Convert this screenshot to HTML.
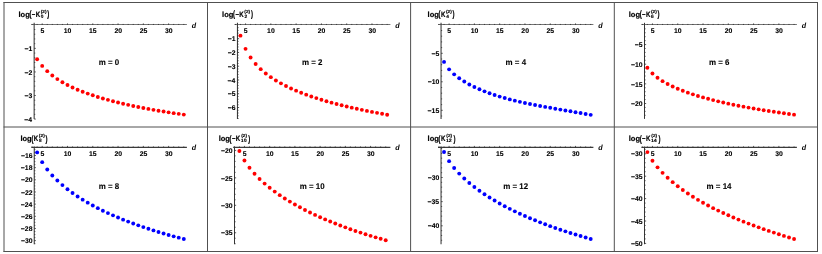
<!DOCTYPE html>
<html><head><meta charset="utf-8"><title>plots</title>
<style>
html,body{margin:0;padding:0;background:#fff;}
body{width:822px;height:254px;overflow:hidden;font-family:"Liberation Sans",sans-serif;}
svg{display:block;will-change:transform;}
text{font-family:"Liberation Sans",sans-serif;fill:#000;font-weight:bold;text-rendering:geometricPrecision;stroke:#000;stroke-width:0.2px;stroke-linejoin:round;}
.s{stroke-width:0.12px;font-weight:bold;}
.d{font-style:italic;font-weight:bold;stroke-width:0.05px;}
.m{stroke-width:0.08px;}
.t{stroke-width:0.1px;}
</style></head><body>
<svg width="822" height="254" viewBox="0 0 822 254">
<rect width="822" height="254" fill="#fff"/>
<line x1="4.0" y1="2" x2="4.0" y2="252" stroke="#505050" stroke-width="1"/>
<line x1="207.5" y1="2" x2="207.5" y2="252" stroke="#505050" stroke-width="1"/>
<line x1="410.6" y1="2" x2="410.6" y2="252" stroke="#505050" stroke-width="1"/>
<line x1="614.3" y1="2" x2="614.3" y2="252" stroke="#505050" stroke-width="1"/>
<line x1="817.5" y1="2" x2="817.5" y2="252" stroke="#505050" stroke-width="1"/>
<line x1="3.5" y1="2.5" x2="818" y2="2.5" stroke="#505050" stroke-width="1"/>
<line x1="3.5" y1="127.0" x2="818" y2="127.0" stroke="#505050" stroke-width="1"/>
<line x1="3.5" y1="251.5" x2="818" y2="251.5" stroke="#505050" stroke-width="1"/>
<g><line x1="31.3" y1="24.5" x2="186.9" y2="24.5" stroke="#747474" stroke-width="1"/><line x1="34.15" y1="22.8" x2="34.15" y2="118.9" stroke="#363636" stroke-width="1.05"/><text transform="matrix(1 0.0004 0 1 40.44 33.35)" class="t" font-size="6.85">5</text><text transform="matrix(1 0.0004 0 1 63.75 33.35)" class="t" font-size="6.85">10</text><text transform="matrix(1 0.0004 0 1 88.99 33.35)" class="t" font-size="6.85">15</text><text transform="matrix(1 0.0004 0 1 114.42 33.35)" class="t" font-size="6.85">20</text><text transform="matrix(1 0.0004 0 1 139.66 33.35)" class="t" font-size="6.85">25</text><text transform="matrix(1 0.0004 0 1 165.03 33.35)" class="t" font-size="6.85">30</text><path d="M32.09 25.0v-1.05M37.14 25.0v-1.05M42.20 25.0v-1.60M47.26 25.0v-1.05M52.31 25.0v-1.05M57.37 25.0v-1.05M62.43 25.0v-1.05M67.49 25.0v-1.60M72.54 25.0v-1.05M77.60 25.0v-1.05M82.66 25.0v-1.05M87.71 25.0v-1.05M92.77 25.0v-1.60M97.83 25.0v-1.05M102.88 25.0v-1.05M107.94 25.0v-1.05M113.00 25.0v-1.05M118.06 25.0v-1.60M123.11 25.0v-1.05M128.17 25.0v-1.05M133.23 25.0v-1.05M138.28 25.0v-1.05M143.34 25.0v-1.60M148.40 25.0v-1.05M153.45 25.0v-1.05M158.51 25.0v-1.05M163.57 25.0v-1.05M168.62 25.0v-1.60M173.68 25.0v-1.05M178.74 25.0v-1.05M183.80 25.0v-1.05M34.15 29.51h1.10M34.15 34.23h1.10M34.15 38.94h1.10M34.15 43.66h1.10M34.15 48.37h1.65M34.15 53.08h1.10M34.15 57.80h1.10M34.15 62.51h1.10M34.15 67.23h1.10M34.15 71.94h1.65M34.15 76.65h1.10M34.15 81.37h1.10M34.15 86.08h1.10M34.15 90.80h1.10M34.15 95.51h1.65M34.15 100.22h1.10M34.15 104.94h1.10M34.15 109.65h1.10M34.15 114.37h1.10M34.15 119.08h1.65" stroke="#2e2e2e" stroke-width="0.8" fill="none"/><text transform="matrix(1 0.0004 0 1 24.48 51.02)" class="t" font-size="6.85">−1</text><text transform="matrix(1 0.0004 0 1 24.56 74.59)" class="t" font-size="6.85">−2</text><text transform="matrix(1 0.0004 0 1 24.54 98.16)" class="t" font-size="6.85">−3</text><text transform="matrix(1 0.0004 0 1 24.33 121.73)" class="t" font-size="6.85">−4</text><circle cx="37.14" cy="59.24" r="1.95" fill="#ff0000"/><circle cx="42.20" cy="65.91" r="1.95" fill="#ff0000"/><circle cx="47.26" cy="71.16" r="1.95" fill="#ff0000"/><circle cx="52.31" cy="75.46" r="1.95" fill="#ff0000"/><circle cx="57.37" cy="79.09" r="1.95" fill="#ff0000"/><circle cx="62.43" cy="82.22" r="1.95" fill="#ff0000"/><circle cx="67.49" cy="84.98" r="1.95" fill="#ff0000"/><circle cx="72.54" cy="87.45" r="1.95" fill="#ff0000"/><circle cx="77.60" cy="89.68" r="1.95" fill="#ff0000"/><circle cx="82.66" cy="91.71" r="1.95" fill="#ff0000"/><circle cx="87.71" cy="93.58" r="1.95" fill="#ff0000"/><circle cx="92.77" cy="95.32" r="1.95" fill="#ff0000"/><circle cx="97.83" cy="96.94" r="1.95" fill="#ff0000"/><circle cx="102.88" cy="98.45" r="1.95" fill="#ff0000"/><circle cx="107.94" cy="99.87" r="1.95" fill="#ff0000"/><circle cx="113.00" cy="101.22" r="1.95" fill="#ff0000"/><circle cx="118.06" cy="102.49" r="1.95" fill="#ff0000"/><circle cx="123.11" cy="103.69" r="1.95" fill="#ff0000"/><circle cx="128.17" cy="104.84" r="1.95" fill="#ff0000"/><circle cx="133.23" cy="105.93" r="1.95" fill="#ff0000"/><circle cx="138.28" cy="106.98" r="1.95" fill="#ff0000"/><circle cx="143.34" cy="107.97" r="1.95" fill="#ff0000"/><circle cx="148.40" cy="108.92" r="1.95" fill="#ff0000"/><circle cx="153.45" cy="109.84" r="1.95" fill="#ff0000"/><circle cx="158.51" cy="110.71" r="1.95" fill="#ff0000"/><circle cx="163.57" cy="111.55" r="1.95" fill="#ff0000"/><circle cx="168.62" cy="112.35" r="1.95" fill="#ff0000"/><circle cx="173.68" cy="113.13" r="1.95" fill="#ff0000"/><circle cx="178.74" cy="113.87" r="1.95" fill="#ff0000"/><circle cx="183.80" cy="114.58" r="1.95" fill="#ff0000"/><text transform="matrix(1 0.0004 0 1 18.53 16.80)" class="l" font-size="7.5">log</text><text transform="matrix(0.8 0.0004 0 1.25 29.50 17.20)" class="l" font-size="7.5">(</text><text transform="matrix(0.8 0.0004 0 1 31.85 16.80)" class="l" font-size="7.5">−</text><text transform="matrix(0.82 0.0004 0 1.03 35.64 16.80)" class="l" font-size="7.5">K</text><text transform="matrix(1.12 0.0004 0 1 40.76 13.10)" class="s" font-size="4.3">(2)</text><text transform="matrix(1 0.0004 0 1 40.81 17.50)" class="s" font-size="4.8">0</text><text transform="matrix(0.8 0.0004 0 1.25 47.35 17.20)" class="l" font-size="7.5">)</text><text transform="matrix(1 0.0004 0 1.04 98.68 64.50)" class="m" font-size="7.95">m = 0</text><text transform="matrix(1 0.0004 0 1 191.70 27.80)" class="d" font-size="7.1">d</text></g>
<g><line x1="234.5" y1="24.5" x2="390.4" y2="24.5" stroke="#747474" stroke-width="1"/><line x1="237.45" y1="22.8" x2="237.45" y2="118.9" stroke="#363636" stroke-width="1.05"/><text transform="matrix(1 0.0004 0 1 243.79 33.35)" class="t" font-size="6.85">5</text><text transform="matrix(1 0.0004 0 1 267.10 33.35)" class="t" font-size="6.85">10</text><text transform="matrix(1 0.0004 0 1 292.34 33.35)" class="t" font-size="6.85">15</text><text transform="matrix(1 0.0004 0 1 317.77 33.35)" class="t" font-size="6.85">20</text><text transform="matrix(1 0.0004 0 1 343.01 33.35)" class="t" font-size="6.85">25</text><text transform="matrix(1 0.0004 0 1 368.38 33.35)" class="t" font-size="6.85">30</text><path d="M235.44 25.0v-1.05M240.49 25.0v-1.05M245.55 25.0v-1.60M250.61 25.0v-1.05M255.66 25.0v-1.05M260.72 25.0v-1.05M265.78 25.0v-1.05M270.84 25.0v-1.60M275.89 25.0v-1.05M280.95 25.0v-1.05M286.01 25.0v-1.05M291.06 25.0v-1.05M296.12 25.0v-1.60M301.18 25.0v-1.05M306.23 25.0v-1.05M311.29 25.0v-1.05M316.35 25.0v-1.05M321.41 25.0v-1.60M326.46 25.0v-1.05M331.52 25.0v-1.05M336.58 25.0v-1.05M341.63 25.0v-1.05M346.69 25.0v-1.60M351.75 25.0v-1.05M356.80 25.0v-1.05M361.86 25.0v-1.05M366.92 25.0v-1.05M371.98 25.0v-1.60M377.03 25.0v-1.05M382.09 25.0v-1.05M387.15 25.0v-1.05M237.45 27.65h1.10M237.45 30.41h1.10M237.45 33.16h1.10M237.45 35.92h1.10M237.45 38.67h1.65M237.45 41.42h1.10M237.45 44.18h1.10M237.45 46.93h1.10M237.45 49.69h1.10M237.45 52.44h1.65M237.45 55.19h1.10M237.45 57.95h1.10M237.45 60.70h1.10M237.45 63.46h1.10M237.45 66.21h1.65M237.45 68.96h1.10M237.45 71.72h1.10M237.45 74.47h1.10M237.45 77.23h1.10M237.45 79.98h1.65M237.45 82.73h1.10M237.45 85.49h1.10M237.45 88.24h1.10M237.45 91.00h1.10M237.45 93.75h1.65M237.45 96.50h1.10M237.45 99.26h1.10M237.45 102.01h1.10M237.45 104.77h1.10M237.45 107.52h1.65M237.45 110.27h1.10M237.45 113.03h1.10M237.45 115.78h1.10M237.45 118.54h1.10" stroke="#2e2e2e" stroke-width="0.8" fill="none"/><text transform="matrix(1 0.0004 0 1 227.63 41.32)" class="t" font-size="6.85">−1</text><text transform="matrix(1 0.0004 0 1 227.71 55.09)" class="t" font-size="6.85">−2</text><text transform="matrix(1 0.0004 0 1 227.69 68.86)" class="t" font-size="6.85">−3</text><text transform="matrix(1 0.0004 0 1 227.48 82.63)" class="t" font-size="6.85">−4</text><text transform="matrix(1 0.0004 0 1 227.63 96.40)" class="t" font-size="6.85">−5</text><text transform="matrix(1 0.0004 0 1 227.69 110.17)" class="t" font-size="6.85">−6</text><circle cx="240.49" cy="35.67" r="1.95" fill="#ff0000"/><circle cx="245.55" cy="48.85" r="1.95" fill="#ff0000"/><circle cx="250.61" cy="57.55" r="1.95" fill="#ff0000"/><circle cx="255.66" cy="64.01" r="1.95" fill="#ff0000"/><circle cx="260.72" cy="69.16" r="1.95" fill="#ff0000"/><circle cx="265.78" cy="73.47" r="1.95" fill="#ff0000"/><circle cx="270.84" cy="77.17" r="1.95" fill="#ff0000"/><circle cx="275.89" cy="80.44" r="1.95" fill="#ff0000"/><circle cx="280.95" cy="83.36" r="1.95" fill="#ff0000"/><circle cx="286.01" cy="86.01" r="1.95" fill="#ff0000"/><circle cx="291.06" cy="88.43" r="1.95" fill="#ff0000"/><circle cx="296.12" cy="90.65" r="1.95" fill="#ff0000"/><circle cx="301.18" cy="92.72" r="1.95" fill="#ff0000"/><circle cx="306.23" cy="94.64" r="1.95" fill="#ff0000"/><circle cx="311.29" cy="96.44" r="1.95" fill="#ff0000"/><circle cx="316.35" cy="98.12" r="1.95" fill="#ff0000"/><circle cx="321.41" cy="99.71" r="1.95" fill="#ff0000"/><circle cx="326.46" cy="101.21" r="1.95" fill="#ff0000"/><circle cx="331.52" cy="102.64" r="1.95" fill="#ff0000"/><circle cx="336.58" cy="103.99" r="1.95" fill="#ff0000"/><circle cx="341.63" cy="105.27" r="1.95" fill="#ff0000"/><circle cx="346.69" cy="106.50" r="1.95" fill="#ff0000"/><circle cx="351.75" cy="107.67" r="1.95" fill="#ff0000"/><circle cx="356.80" cy="108.80" r="1.95" fill="#ff0000"/><circle cx="361.86" cy="109.87" r="1.95" fill="#ff0000"/><circle cx="366.92" cy="110.91" r="1.95" fill="#ff0000"/><circle cx="371.98" cy="111.90" r="1.95" fill="#ff0000"/><circle cx="377.03" cy="112.86" r="1.95" fill="#ff0000"/><circle cx="382.09" cy="113.79" r="1.95" fill="#ff0000"/><circle cx="387.15" cy="114.69" r="1.95" fill="#ff0000"/><text transform="matrix(1 0.0004 0 1 222.08 16.80)" class="l" font-size="7.5">log</text><text transform="matrix(0.8 0.0004 0 1.25 233.05 17.20)" class="l" font-size="7.5">(</text><text transform="matrix(0.8 0.0004 0 1 235.40 16.80)" class="l" font-size="7.5">−</text><text transform="matrix(0.82 0.0004 0 1.03 239.19 16.80)" class="l" font-size="7.5">K</text><text transform="matrix(1.12 0.0004 0 1 244.31 13.10)" class="s" font-size="4.3">(2)</text><text transform="matrix(1 0.0004 0 1 244.38 17.50)" class="s" font-size="4.8">2</text><text transform="matrix(0.8 0.0004 0 1.25 250.90 17.20)" class="l" font-size="7.5">)</text><text transform="matrix(1 0.0004 0 1.04 301.92 64.50)" class="m" font-size="7.95">m = 2</text><text transform="matrix(1 0.0004 0 1 395.20 27.80)" class="d" font-size="7.1">d</text></g>
<g><line x1="438.0" y1="24.5" x2="593.4" y2="24.5" stroke="#747474" stroke-width="1"/><line x1="441.055" y1="22.8" x2="441.055" y2="118.9" stroke="#363636" stroke-width="1.05"/><text transform="matrix(1 0.0004 0 1 447.34 33.35)" class="t" font-size="6.85">5</text><text transform="matrix(1 0.0004 0 1 470.65 33.35)" class="t" font-size="6.85">10</text><text transform="matrix(1 0.0004 0 1 495.89 33.35)" class="t" font-size="6.85">15</text><text transform="matrix(1 0.0004 0 1 521.32 33.35)" class="t" font-size="6.85">20</text><text transform="matrix(1 0.0004 0 1 546.56 33.35)" class="t" font-size="6.85">25</text><text transform="matrix(1 0.0004 0 1 571.93 33.35)" class="t" font-size="6.85">30</text><path d="M438.99 25.0v-1.05M444.04 25.0v-1.05M449.10 25.0v-1.60M454.16 25.0v-1.05M459.21 25.0v-1.05M464.27 25.0v-1.05M469.33 25.0v-1.05M474.39 25.0v-1.60M479.44 25.0v-1.05M484.50 25.0v-1.05M489.56 25.0v-1.05M494.61 25.0v-1.05M499.67 25.0v-1.60M504.73 25.0v-1.05M509.78 25.0v-1.05M514.84 25.0v-1.05M519.90 25.0v-1.05M524.96 25.0v-1.60M530.01 25.0v-1.05M535.07 25.0v-1.05M540.13 25.0v-1.05M545.18 25.0v-1.05M550.24 25.0v-1.60M555.30 25.0v-1.05M560.35 25.0v-1.05M565.41 25.0v-1.05M570.47 25.0v-1.05M575.53 25.0v-1.60M580.58 25.0v-1.05M585.64 25.0v-1.05M590.70 25.0v-1.05M441.055 30.50h1.10M441.055 36.20h1.10M441.055 41.90h1.10M441.055 47.60h1.10M441.055 53.30h1.65M441.055 59.00h1.10M441.055 64.70h1.10M441.055 70.40h1.10M441.055 76.10h1.10M441.055 81.80h1.65M441.055 87.50h1.10M441.055 93.20h1.10M441.055 98.90h1.10M441.055 104.60h1.10M441.055 110.30h1.65M441.055 116.00h1.10" stroke="#2e2e2e" stroke-width="0.8" fill="none"/><text transform="matrix(1 0.0004 0 1 431.39 55.95)" class="t" font-size="6.85">−5</text><text transform="matrix(1 0.0004 0 1 427.67 84.45)" class="t" font-size="6.85">−10</text><text transform="matrix(1 0.0004 0 1 427.58 112.95)" class="t" font-size="6.85">−15</text><circle cx="444.04" cy="61.89" r="1.95" fill="#0000ff"/><circle cx="449.10" cy="69.35" r="1.95" fill="#0000ff"/><circle cx="454.16" cy="74.34" r="1.95" fill="#0000ff"/><circle cx="459.21" cy="78.25" r="1.95" fill="#0000ff"/><circle cx="464.27" cy="81.55" r="1.95" fill="#0000ff"/><circle cx="469.33" cy="84.43" r="1.95" fill="#0000ff"/><circle cx="474.39" cy="86.99" r="1.95" fill="#0000ff"/><circle cx="479.44" cy="89.29" r="1.95" fill="#0000ff"/><circle cx="484.50" cy="91.37" r="1.95" fill="#0000ff"/><circle cx="489.56" cy="93.26" r="1.95" fill="#0000ff"/><circle cx="494.61" cy="94.99" r="1.95" fill="#0000ff"/><circle cx="499.67" cy="96.58" r="1.95" fill="#0000ff"/><circle cx="504.73" cy="98.04" r="1.95" fill="#0000ff"/><circle cx="509.78" cy="99.40" r="1.95" fill="#0000ff"/><circle cx="514.84" cy="100.66" r="1.95" fill="#0000ff"/><circle cx="519.90" cy="101.84" r="1.95" fill="#0000ff"/><circle cx="524.96" cy="102.95" r="1.95" fill="#0000ff"/><circle cx="530.01" cy="104.01" r="1.95" fill="#0000ff"/><circle cx="535.07" cy="105.01" r="1.95" fill="#0000ff"/><circle cx="540.13" cy="105.98" r="1.95" fill="#0000ff"/><circle cx="545.18" cy="106.91" r="1.95" fill="#0000ff"/><circle cx="550.24" cy="107.82" r="1.95" fill="#0000ff"/><circle cx="555.30" cy="108.71" r="1.95" fill="#0000ff"/><circle cx="560.35" cy="109.58" r="1.95" fill="#0000ff"/><circle cx="565.41" cy="110.45" r="1.95" fill="#0000ff"/><circle cx="570.47" cy="111.31" r="1.95" fill="#0000ff"/><circle cx="575.53" cy="112.18" r="1.95" fill="#0000ff"/><circle cx="580.58" cy="113.06" r="1.95" fill="#0000ff"/><circle cx="585.64" cy="113.94" r="1.95" fill="#0000ff"/><circle cx="590.70" cy="114.84" r="1.95" fill="#0000ff"/><text transform="matrix(1 0.0004 0 1 427.58 16.80)" class="l" font-size="7.5">log</text><text transform="matrix(0.8 0.0004 0 1.25 438.55 17.20)" class="l" font-size="7.5">(</text><text transform="matrix(0.82 0.0004 0 1.03 440.89 16.80)" class="l" font-size="7.5">K</text><text transform="matrix(1.12 0.0004 0 1 446.01 13.10)" class="s" font-size="4.3">(2)</text><text transform="matrix(1 0.0004 0 1 446.18 17.50)" class="s" font-size="4.8">4</text><text transform="matrix(0.8 0.0004 0 1.25 452.60 17.20)" class="l" font-size="7.5">)</text><text transform="matrix(1 0.0004 0 1.04 505.58 64.50)" class="m" font-size="7.95">m = 4</text><text transform="matrix(1 0.0004 0 1 598.20 27.80)" class="d" font-size="7.1">d</text></g>
<g><line x1="641.4" y1="24.5" x2="796.9" y2="24.5" stroke="#747474" stroke-width="1"/><line x1="644.5" y1="22.8" x2="644.5" y2="118.9" stroke="#363636" stroke-width="1.05"/><text transform="matrix(1 0.0004 0 1 650.69 33.35)" class="t" font-size="6.85">5</text><text transform="matrix(1 0.0004 0 1 674.00 33.35)" class="t" font-size="6.85">10</text><text transform="matrix(1 0.0004 0 1 699.24 33.35)" class="t" font-size="6.85">15</text><text transform="matrix(1 0.0004 0 1 724.67 33.35)" class="t" font-size="6.85">20</text><text transform="matrix(1 0.0004 0 1 749.91 33.35)" class="t" font-size="6.85">25</text><text transform="matrix(1 0.0004 0 1 775.28 33.35)" class="t" font-size="6.85">30</text><path d="M642.34 25.0v-1.05M647.39 25.0v-1.05M652.45 25.0v-1.60M657.51 25.0v-1.05M662.56 25.0v-1.05M667.62 25.0v-1.05M672.68 25.0v-1.05M677.74 25.0v-1.60M682.79 25.0v-1.05M687.85 25.0v-1.05M692.91 25.0v-1.05M697.96 25.0v-1.05M703.02 25.0v-1.60M708.08 25.0v-1.05M713.13 25.0v-1.05M718.19 25.0v-1.05M723.25 25.0v-1.05M728.31 25.0v-1.60M733.36 25.0v-1.05M738.42 25.0v-1.05M743.48 25.0v-1.05M748.53 25.0v-1.05M753.59 25.0v-1.60M758.65 25.0v-1.05M763.70 25.0v-1.05M768.76 25.0v-1.05M773.82 25.0v-1.05M778.88 25.0v-1.60M783.93 25.0v-1.05M788.99 25.0v-1.05M794.05 25.0v-1.05M644.5 28.83h1.10M644.5 32.76h1.10M644.5 36.69h1.10M644.5 40.62h1.10M644.5 44.55h1.65M644.5 48.48h1.10M644.5 52.41h1.10M644.5 56.34h1.10M644.5 60.27h1.10M644.5 64.20h1.65M644.5 68.13h1.10M644.5 72.06h1.10M644.5 75.99h1.10M644.5 79.92h1.10M644.5 83.85h1.65M644.5 87.78h1.10M644.5 91.71h1.10M644.5 95.64h1.10M644.5 99.57h1.10M644.5 103.50h1.65M644.5 107.43h1.10M644.5 111.36h1.10M644.5 115.29h1.10" stroke="#2e2e2e" stroke-width="0.8" fill="none"/><text transform="matrix(1 0.0004 0 1 634.73 47.20)" class="t" font-size="6.85">−5</text><text transform="matrix(1 0.0004 0 1 631.01 66.85)" class="t" font-size="6.85">−10</text><text transform="matrix(1 0.0004 0 1 630.92 86.50)" class="t" font-size="6.85">−15</text><text transform="matrix(1 0.0004 0 1 631.01 106.15)" class="t" font-size="6.85">−20</text><circle cx="647.39" cy="67.68" r="1.95" fill="#ff0000"/><circle cx="652.45" cy="73.55" r="1.95" fill="#ff0000"/><circle cx="657.51" cy="77.78" r="1.95" fill="#ff0000"/><circle cx="662.56" cy="81.15" r="1.95" fill="#ff0000"/><circle cx="667.62" cy="84.01" r="1.95" fill="#ff0000"/><circle cx="672.68" cy="86.51" r="1.95" fill="#ff0000"/><circle cx="677.74" cy="88.75" r="1.95" fill="#ff0000"/><circle cx="682.79" cy="90.77" r="1.95" fill="#ff0000"/><circle cx="687.85" cy="92.63" r="1.95" fill="#ff0000"/><circle cx="692.91" cy="94.34" r="1.95" fill="#ff0000"/><circle cx="697.96" cy="95.93" r="1.95" fill="#ff0000"/><circle cx="703.02" cy="97.41" r="1.95" fill="#ff0000"/><circle cx="708.08" cy="98.80" r="1.95" fill="#ff0000"/><circle cx="713.13" cy="100.11" r="1.95" fill="#ff0000"/><circle cx="718.19" cy="101.34" r="1.95" fill="#ff0000"/><circle cx="723.25" cy="102.52" r="1.95" fill="#ff0000"/><circle cx="728.31" cy="103.63" r="1.95" fill="#ff0000"/><circle cx="733.36" cy="104.69" r="1.95" fill="#ff0000"/><circle cx="738.42" cy="105.70" r="1.95" fill="#ff0000"/><circle cx="743.48" cy="106.67" r="1.95" fill="#ff0000"/><circle cx="748.53" cy="107.60" r="1.95" fill="#ff0000"/><circle cx="753.59" cy="108.49" r="1.95" fill="#ff0000"/><circle cx="758.65" cy="109.35" r="1.95" fill="#ff0000"/><circle cx="763.70" cy="110.18" r="1.95" fill="#ff0000"/><circle cx="768.76" cy="110.98" r="1.95" fill="#ff0000"/><circle cx="773.82" cy="111.75" r="1.95" fill="#ff0000"/><circle cx="778.88" cy="112.50" r="1.95" fill="#ff0000"/><circle cx="783.93" cy="113.23" r="1.95" fill="#ff0000"/><circle cx="788.99" cy="113.94" r="1.95" fill="#ff0000"/><circle cx="794.05" cy="114.63" r="1.95" fill="#ff0000"/><text transform="matrix(1 0.0004 0 1 628.78 16.80)" class="l" font-size="7.5">log</text><text transform="matrix(0.8 0.0004 0 1.25 639.75 17.20)" class="l" font-size="7.5">(</text><text transform="matrix(0.8 0.0004 0 1 642.10 16.80)" class="l" font-size="7.5">−</text><text transform="matrix(0.82 0.0004 0 1.03 645.89 16.80)" class="l" font-size="7.5">K</text><text transform="matrix(1.12 0.0004 0 1 651.01 13.10)" class="s" font-size="4.3">(2)</text><text transform="matrix(1 0.0004 0 1 651.07 17.50)" class="s" font-size="4.8">6</text><text transform="matrix(0.8 0.0004 0 1.25 657.60 17.20)" class="l" font-size="7.5">)</text><text transform="matrix(1 0.0004 0 1.04 708.91 64.50)" class="m" font-size="7.95">m = 6</text><text transform="matrix(1 0.0004 0 1 801.70 27.80)" class="d" font-size="7.1">d</text></g>
<g><line x1="31.3" y1="147.3" x2="186.9" y2="147.3" stroke="#3a3a3a" stroke-width="1.3"/><line x1="34.25" y1="146.6" x2="34.25" y2="244.2" stroke="#363636" stroke-width="1.05"/><text transform="matrix(1 0.0004 0 1 40.44 155.90)" class="t" font-size="6.85">5</text><text transform="matrix(1 0.0004 0 1 63.75 155.90)" class="t" font-size="6.85">10</text><text transform="matrix(1 0.0004 0 1 88.99 155.90)" class="t" font-size="6.85">15</text><text transform="matrix(1 0.0004 0 1 114.42 155.90)" class="t" font-size="6.85">20</text><text transform="matrix(1 0.0004 0 1 139.66 155.90)" class="t" font-size="6.85">25</text><text transform="matrix(1 0.0004 0 1 165.03 155.90)" class="t" font-size="6.85">30</text><path d="M32.09 147.5v-1.05M37.14 147.5v-1.05M42.20 147.5v-1.60M47.26 147.5v-1.05M52.31 147.5v-1.05M57.37 147.5v-1.05M62.43 147.5v-1.05M67.49 147.5v-1.60M72.54 147.5v-1.05M77.60 147.5v-1.05M82.66 147.5v-1.05M87.71 147.5v-1.05M92.77 147.5v-1.60M97.83 147.5v-1.05M102.88 147.5v-1.05M107.94 147.5v-1.05M113.00 147.5v-1.05M118.06 147.5v-1.60M123.11 147.5v-1.05M128.17 147.5v-1.05M133.23 147.5v-1.05M138.28 147.5v-1.05M143.34 147.5v-1.60M148.40 147.5v-1.05M153.45 147.5v-1.05M158.51 147.5v-1.05M163.57 147.5v-1.05M168.62 147.5v-1.60M173.68 147.5v-1.05M178.74 147.5v-1.05M183.80 147.5v-1.05M34.25 149.42h1.10M34.25 152.46h1.10M34.25 155.50h1.65M34.25 158.54h1.10M34.25 161.58h1.10M34.25 164.62h1.10M34.25 167.66h1.65M34.25 170.70h1.10M34.25 173.74h1.10M34.25 176.78h1.10M34.25 179.82h1.65M34.25 182.86h1.10M34.25 185.90h1.10M34.25 188.94h1.10M34.25 191.98h1.65M34.25 195.02h1.10M34.25 198.06h1.10M34.25 201.10h1.10M34.25 204.14h1.65M34.25 207.18h1.10M34.25 210.22h1.10M34.25 213.26h1.10M34.25 216.30h1.65M34.25 219.34h1.10M34.25 222.38h1.10M34.25 225.42h1.10M34.25 228.46h1.65M34.25 231.50h1.10M34.25 234.54h1.10M34.25 237.58h1.10M34.25 240.62h1.65M34.25 243.66h1.10" stroke="#2e2e2e" stroke-width="0.8" fill="none"/><text transform="matrix(1 0.0004 0 1 20.88 158.15)" class="t" font-size="6.85">−16</text><text transform="matrix(1 0.0004 0 1 20.84 170.31)" class="t" font-size="6.85">−18</text><text transform="matrix(1 0.0004 0 1 20.91 182.47)" class="t" font-size="6.85">−20</text><text transform="matrix(1 0.0004 0 1 20.90 194.63)" class="t" font-size="6.85">−22</text><text transform="matrix(1 0.0004 0 1 20.67 206.79)" class="t" font-size="6.85">−24</text><text transform="matrix(1 0.0004 0 1 20.88 218.95)" class="t" font-size="6.85">−26</text><text transform="matrix(1 0.0004 0 1 20.84 231.11)" class="t" font-size="6.85">−28</text><text transform="matrix(1 0.0004 0 1 20.91 243.27)" class="t" font-size="6.85">−30</text><circle cx="37.14" cy="152.39" r="1.95" fill="#0000ff"/><circle cx="42.20" cy="162.14" r="1.95" fill="#0000ff"/><circle cx="47.26" cy="169.45" r="1.95" fill="#0000ff"/><circle cx="52.31" cy="175.43" r="1.95" fill="#0000ff"/><circle cx="57.37" cy="180.57" r="1.95" fill="#0000ff"/><circle cx="62.43" cy="185.11" r="1.95" fill="#0000ff"/><circle cx="67.49" cy="189.22" r="1.95" fill="#0000ff"/><circle cx="72.54" cy="192.96" r="1.95" fill="#0000ff"/><circle cx="77.60" cy="196.43" r="1.95" fill="#0000ff"/><circle cx="82.66" cy="199.65" r="1.95" fill="#0000ff"/><circle cx="87.71" cy="202.66" r="1.95" fill="#0000ff"/><circle cx="92.77" cy="205.49" r="1.95" fill="#0000ff"/><circle cx="97.83" cy="208.16" r="1.95" fill="#0000ff"/><circle cx="102.88" cy="210.69" r="1.95" fill="#0000ff"/><circle cx="107.94" cy="213.09" r="1.95" fill="#0000ff"/><circle cx="113.00" cy="215.37" r="1.95" fill="#0000ff"/><circle cx="118.06" cy="217.55" r="1.95" fill="#0000ff"/><circle cx="123.11" cy="219.63" r="1.95" fill="#0000ff"/><circle cx="128.17" cy="221.62" r="1.95" fill="#0000ff"/><circle cx="133.23" cy="223.52" r="1.95" fill="#0000ff"/><circle cx="138.28" cy="225.35" r="1.95" fill="#0000ff"/><circle cx="143.34" cy="227.11" r="1.95" fill="#0000ff"/><circle cx="148.40" cy="228.79" r="1.95" fill="#0000ff"/><circle cx="153.45" cy="230.42" r="1.95" fill="#0000ff"/><circle cx="158.51" cy="231.98" r="1.95" fill="#0000ff"/><circle cx="163.57" cy="233.48" r="1.95" fill="#0000ff"/><circle cx="168.62" cy="234.93" r="1.95" fill="#0000ff"/><circle cx="173.68" cy="236.33" r="1.95" fill="#0000ff"/><circle cx="178.74" cy="237.67" r="1.95" fill="#0000ff"/><circle cx="183.80" cy="238.97" r="1.95" fill="#0000ff"/><text transform="matrix(1 0.0004 0 1 20.43 141.10)" class="l" font-size="7.5">log</text><text transform="matrix(0.8 0.0004 0 1.25 31.40 141.50)" class="l" font-size="7.5">(</text><text transform="matrix(0.82 0.0004 0 1.03 33.74 141.10)" class="l" font-size="7.5">K</text><text transform="matrix(1.12 0.0004 0 1 38.86 137.40)" class="s" font-size="4.3">(2)</text><text transform="matrix(1 0.0004 0 1 38.95 142.30)" class="s" font-size="4.8">8</text><text transform="matrix(0.8 0.0004 0 1.25 45.45 141.50)" class="l" font-size="7.5">)</text><text transform="matrix(1 0.0004 0 1.04 98.69 189.40)" class="m" font-size="7.95">m = 8</text><text transform="matrix(1 0.0004 0 1 191.70 150.30)" class="d" font-size="7.1">d</text></g>
<g><line x1="233.2" y1="147.3" x2="390.4" y2="147.3" stroke="#3a3a3a" stroke-width="1.3"/><line x1="234.5" y1="146.6" x2="234.5" y2="244.2" stroke="#363636" stroke-width="1.05"/><text transform="matrix(1 0.0004 0 1 242.69 155.90)" class="t" font-size="6.85">5</text><text transform="matrix(1 0.0004 0 1 265.94 155.90)" class="t" font-size="6.85">10</text><text transform="matrix(1 0.0004 0 1 291.12 155.90)" class="t" font-size="6.85">15</text><text transform="matrix(1 0.0004 0 1 316.49 155.90)" class="t" font-size="6.85">20</text><text transform="matrix(1 0.0004 0 1 341.67 155.90)" class="t" font-size="6.85">25</text><text transform="matrix(1 0.0004 0 1 366.98 155.90)" class="t" font-size="6.85">30</text><path d="M234.36 147.5v-1.05M239.41 147.5v-1.05M244.45 147.5v-1.60M249.49 147.5v-1.05M254.54 147.5v-1.05M259.58 147.5v-1.05M264.63 147.5v-1.05M269.68 147.5v-1.60M274.72 147.5v-1.05M279.76 147.5v-1.05M284.81 147.5v-1.05M289.86 147.5v-1.05M294.90 147.5v-1.60M299.94 147.5v-1.05M304.99 147.5v-1.05M310.03 147.5v-1.05M315.08 147.5v-1.05M320.12 147.5v-1.60M325.17 147.5v-1.05M330.21 147.5v-1.05M335.26 147.5v-1.05M340.31 147.5v-1.05M345.35 147.5v-1.60M350.39 147.5v-1.05M355.44 147.5v-1.05M360.49 147.5v-1.05M365.53 147.5v-1.05M370.57 147.5v-1.60M375.62 147.5v-1.05M380.66 147.5v-1.05M385.71 147.5v-1.05M234.5 150.40h1.65M234.5 155.89h1.10M234.5 161.38h1.10M234.5 166.87h1.10M234.5 172.36h1.10M234.5 177.85h1.65M234.5 183.34h1.10M234.5 188.83h1.10M234.5 194.32h1.10M234.5 199.81h1.10M234.5 205.30h1.65M234.5 210.79h1.10M234.5 216.28h1.10M234.5 221.77h1.10M234.5 227.26h1.10M234.5 232.75h1.65M234.5 238.24h1.10M234.5 243.73h1.10" stroke="#2e2e2e" stroke-width="0.8" fill="none"/><text transform="matrix(1 0.0004 0 1 221.06 153.05)" class="t" font-size="6.85">−20</text><text transform="matrix(1 0.0004 0 1 220.97 180.50)" class="t" font-size="6.85">−25</text><text transform="matrix(1 0.0004 0 1 221.06 207.95)" class="t" font-size="6.85">−30</text><text transform="matrix(1 0.0004 0 1 220.97 235.40)" class="t" font-size="6.85">−35</text><circle cx="239.41" cy="151.07" r="1.95" fill="#ff0000"/><circle cx="244.45" cy="160.53" r="1.95" fill="#ff0000"/><circle cx="249.49" cy="167.78" r="1.95" fill="#ff0000"/><circle cx="254.54" cy="173.78" r="1.95" fill="#ff0000"/><circle cx="259.58" cy="178.97" r="1.95" fill="#ff0000"/><circle cx="264.63" cy="183.59" r="1.95" fill="#ff0000"/><circle cx="269.68" cy="187.77" r="1.95" fill="#ff0000"/><circle cx="274.72" cy="191.61" r="1.95" fill="#ff0000"/><circle cx="279.76" cy="195.17" r="1.95" fill="#ff0000"/><circle cx="284.81" cy="198.48" r="1.95" fill="#ff0000"/><circle cx="289.86" cy="201.60" r="1.95" fill="#ff0000"/><circle cx="294.90" cy="204.54" r="1.95" fill="#ff0000"/><circle cx="299.94" cy="207.32" r="1.95" fill="#ff0000"/><circle cx="304.99" cy="209.97" r="1.95" fill="#ff0000"/><circle cx="310.03" cy="212.48" r="1.95" fill="#ff0000"/><circle cx="315.08" cy="214.89" r="1.95" fill="#ff0000"/><circle cx="320.12" cy="217.19" r="1.95" fill="#ff0000"/><circle cx="325.17" cy="219.39" r="1.95" fill="#ff0000"/><circle cx="330.21" cy="221.50" r="1.95" fill="#ff0000"/><circle cx="335.26" cy="223.54" r="1.95" fill="#ff0000"/><circle cx="340.31" cy="225.49" r="1.95" fill="#ff0000"/><circle cx="345.35" cy="227.37" r="1.95" fill="#ff0000"/><circle cx="350.39" cy="229.19" r="1.95" fill="#ff0000"/><circle cx="355.44" cy="230.94" r="1.95" fill="#ff0000"/><circle cx="360.49" cy="232.62" r="1.95" fill="#ff0000"/><circle cx="365.53" cy="234.25" r="1.95" fill="#ff0000"/><circle cx="370.57" cy="235.83" r="1.95" fill="#ff0000"/><circle cx="375.62" cy="237.35" r="1.95" fill="#ff0000"/><circle cx="380.66" cy="238.81" r="1.95" fill="#ff0000"/><circle cx="385.71" cy="240.23" r="1.95" fill="#ff0000"/><text transform="matrix(1 0.0004 0 1 218.63 141.10)" class="l" font-size="7.5">log</text><text transform="matrix(0.8 0.0004 0 1.25 229.60 141.50)" class="l" font-size="7.5">(</text><text transform="matrix(0.8 0.0004 0 1 231.95 141.10)" class="l" font-size="7.5">−</text><text transform="matrix(0.82 0.0004 0 1.03 235.74 141.10)" class="l" font-size="7.5">K</text><text transform="matrix(1.12 0.0004 0 1 241.16 137.40)" class="s" font-size="4.3">(2)</text><text transform="matrix(1.1 0.0004 0 1 240.77 142.30)" class="s" font-size="4.8">10</text><text transform="matrix(0.8 0.0004 0 1.25 248.25 141.50)" class="l" font-size="7.5">)</text><text transform="matrix(1 0.0004 0 1.04 299.72 189.40)" class="m" font-size="7.95">m = 10</text><text transform="matrix(1 0.0004 0 1 395.20 150.30)" class="d" font-size="7.1">d</text></g>
<g><line x1="438.0" y1="147.3" x2="593.4" y2="147.3" stroke="#3a3a3a" stroke-width="1.3"/><line x1="441.05" y1="146.6" x2="441.05" y2="244.2" stroke="#363636" stroke-width="1.05"/><text transform="matrix(1 0.0004 0 1 447.34 155.90)" class="t" font-size="6.85">5</text><text transform="matrix(1 0.0004 0 1 470.65 155.90)" class="t" font-size="6.85">10</text><text transform="matrix(1 0.0004 0 1 495.89 155.90)" class="t" font-size="6.85">15</text><text transform="matrix(1 0.0004 0 1 521.32 155.90)" class="t" font-size="6.85">20</text><text transform="matrix(1 0.0004 0 1 546.56 155.90)" class="t" font-size="6.85">25</text><text transform="matrix(1 0.0004 0 1 571.93 155.90)" class="t" font-size="6.85">30</text><path d="M438.99 147.5v-1.05M444.04 147.5v-1.05M449.10 147.5v-1.60M454.16 147.5v-1.05M459.21 147.5v-1.05M464.27 147.5v-1.05M469.33 147.5v-1.05M474.39 147.5v-1.60M479.44 147.5v-1.05M484.50 147.5v-1.05M489.56 147.5v-1.05M494.61 147.5v-1.05M499.67 147.5v-1.60M504.73 147.5v-1.05M509.78 147.5v-1.05M514.84 147.5v-1.05M519.90 147.5v-1.05M524.96 147.5v-1.60M530.01 147.5v-1.05M535.07 147.5v-1.05M540.13 147.5v-1.05M545.18 147.5v-1.05M550.24 147.5v-1.60M555.30 147.5v-1.05M560.35 147.5v-1.05M565.41 147.5v-1.05M570.47 147.5v-1.05M575.53 147.5v-1.60M580.58 147.5v-1.05M585.64 147.5v-1.05M590.70 147.5v-1.05M441.05 148.52h1.10M441.05 153.35h1.10M441.05 158.18h1.10M441.05 163.01h1.10M441.05 167.84h1.10M441.05 172.67h1.10M441.05 177.50h1.65M441.05 182.33h1.10M441.05 187.16h1.10M441.05 191.99h1.10M441.05 196.82h1.10M441.05 201.65h1.65M441.05 206.48h1.10M441.05 211.31h1.10M441.05 216.14h1.10M441.05 220.97h1.10M441.05 225.80h1.65M441.05 230.63h1.10M441.05 235.46h1.10M441.05 240.29h1.10" stroke="#2e2e2e" stroke-width="0.8" fill="none"/><text transform="matrix(1 0.0004 0 1 427.66 180.15)" class="t" font-size="6.85">−30</text><text transform="matrix(1 0.0004 0 1 427.57 204.30)" class="t" font-size="6.85">−35</text><text transform="matrix(1 0.0004 0 1 427.66 228.45)" class="t" font-size="6.85">−40</text><circle cx="444.04" cy="152.07" r="1.95" fill="#0000ff"/><circle cx="449.10" cy="161.17" r="1.95" fill="#0000ff"/><circle cx="454.16" cy="167.98" r="1.95" fill="#0000ff"/><circle cx="459.21" cy="173.61" r="1.95" fill="#0000ff"/><circle cx="464.27" cy="178.54" r="1.95" fill="#0000ff"/><circle cx="469.33" cy="182.96" r="1.95" fill="#0000ff"/><circle cx="474.39" cy="187.00" r="1.95" fill="#0000ff"/><circle cx="479.44" cy="190.74" r="1.95" fill="#0000ff"/><circle cx="484.50" cy="194.22" r="1.95" fill="#0000ff"/><circle cx="489.56" cy="197.49" r="1.95" fill="#0000ff"/><circle cx="494.61" cy="200.57" r="1.95" fill="#0000ff"/><circle cx="499.67" cy="203.48" r="1.95" fill="#0000ff"/><circle cx="504.73" cy="206.24" r="1.95" fill="#0000ff"/><circle cx="509.78" cy="208.86" r="1.95" fill="#0000ff"/><circle cx="514.84" cy="211.36" r="1.95" fill="#0000ff"/><circle cx="519.90" cy="213.75" r="1.95" fill="#0000ff"/><circle cx="524.96" cy="216.03" r="1.95" fill="#0000ff"/><circle cx="530.01" cy="218.22" r="1.95" fill="#0000ff"/><circle cx="535.07" cy="220.32" r="1.95" fill="#0000ff"/><circle cx="540.13" cy="222.34" r="1.95" fill="#0000ff"/><circle cx="545.18" cy="224.28" r="1.95" fill="#0000ff"/><circle cx="550.24" cy="226.15" r="1.95" fill="#0000ff"/><circle cx="555.30" cy="227.95" r="1.95" fill="#0000ff"/><circle cx="560.35" cy="229.69" r="1.95" fill="#0000ff"/><circle cx="565.41" cy="231.37" r="1.95" fill="#0000ff"/><circle cx="570.47" cy="232.99" r="1.95" fill="#0000ff"/><circle cx="575.53" cy="234.56" r="1.95" fill="#0000ff"/><circle cx="580.58" cy="236.07" r="1.95" fill="#0000ff"/><circle cx="585.64" cy="237.54" r="1.95" fill="#0000ff"/><circle cx="590.70" cy="238.96" r="1.95" fill="#0000ff"/><text transform="matrix(1 0.0004 0 1 427.58 141.10)" class="l" font-size="7.5">log</text><text transform="matrix(0.8 0.0004 0 1.25 438.55 141.50)" class="l" font-size="7.5">(</text><text transform="matrix(0.82 0.0004 0 1.03 440.89 141.10)" class="l" font-size="7.5">K</text><text transform="matrix(1.12 0.0004 0 1 446.31 137.40)" class="s" font-size="4.3">(2)</text><text transform="matrix(1.1 0.0004 0 1 445.92 142.30)" class="s" font-size="4.8">12</text><text transform="matrix(0.8 0.0004 0 1.25 453.40 141.50)" class="l" font-size="7.5">)</text><text transform="matrix(1 0.0004 0 1.04 503.21 189.40)" class="m" font-size="7.95">m = 12</text><text transform="matrix(1 0.0004 0 1 598.20 150.30)" class="d" font-size="7.1">d</text></g>
<g><line x1="641.4" y1="147.3" x2="796.9" y2="147.3" stroke="#3a3a3a" stroke-width="1.3"/><line x1="644.5" y1="146.6" x2="644.5" y2="244.2" stroke="#363636" stroke-width="1.05"/><text transform="matrix(1 0.0004 0 1 650.71 155.90)" class="t" font-size="6.85">5</text><text transform="matrix(1 0.0004 0 1 674.02 155.90)" class="t" font-size="6.85">10</text><text transform="matrix(1 0.0004 0 1 699.26 155.90)" class="t" font-size="6.85">15</text><text transform="matrix(1 0.0004 0 1 724.69 155.90)" class="t" font-size="6.85">20</text><text transform="matrix(1 0.0004 0 1 749.93 155.90)" class="t" font-size="6.85">25</text><text transform="matrix(1 0.0004 0 1 775.30 155.90)" class="t" font-size="6.85">30</text><path d="M642.36 147.5v-1.05M647.41 147.5v-1.05M652.47 147.5v-1.60M657.53 147.5v-1.05M662.58 147.5v-1.05M667.64 147.5v-1.05M672.70 147.5v-1.05M677.75 147.5v-1.60M682.81 147.5v-1.05M687.87 147.5v-1.05M692.93 147.5v-1.05M697.98 147.5v-1.05M703.04 147.5v-1.60M708.10 147.5v-1.05M713.15 147.5v-1.05M718.21 147.5v-1.05M723.27 147.5v-1.05M728.33 147.5v-1.60M733.38 147.5v-1.05M738.44 147.5v-1.05M743.50 147.5v-1.05M748.55 147.5v-1.05M753.61 147.5v-1.60M758.67 147.5v-1.05M763.72 147.5v-1.05M768.78 147.5v-1.05M773.84 147.5v-1.05M778.89 147.5v-1.60M783.95 147.5v-1.05M789.01 147.5v-1.05M794.07 147.5v-1.05M644.5 149.32h1.10M644.5 153.80h1.65M644.5 158.28h1.10M644.5 162.76h1.10M644.5 167.24h1.10M644.5 171.72h1.10M644.5 176.20h1.65M644.5 180.68h1.10M644.5 185.16h1.10M644.5 189.64h1.10M644.5 194.12h1.10M644.5 198.60h1.65M644.5 203.08h1.10M644.5 207.56h1.10M644.5 212.04h1.10M644.5 216.52h1.10M644.5 221.00h1.65M644.5 225.48h1.10M644.5 229.96h1.10M644.5 234.44h1.10M644.5 238.92h1.10M644.5 243.40h1.65" stroke="#2e2e2e" stroke-width="0.8" fill="none"/><text transform="matrix(1 0.0004 0 1 631.01 156.45)" class="t" font-size="6.85">−30</text><text transform="matrix(1 0.0004 0 1 630.92 178.85)" class="t" font-size="6.85">−35</text><text transform="matrix(1 0.0004 0 1 631.01 201.25)" class="t" font-size="6.85">−40</text><text transform="matrix(1 0.0004 0 1 630.92 223.65)" class="t" font-size="6.85">−45</text><text transform="matrix(1 0.0004 0 1 631.01 246.05)" class="t" font-size="6.85">−50</text><circle cx="647.41" cy="152.08" r="1.95" fill="#ff0000"/><circle cx="652.47" cy="160.75" r="1.95" fill="#ff0000"/><circle cx="657.53" cy="167.33" r="1.95" fill="#ff0000"/><circle cx="662.58" cy="172.87" r="1.95" fill="#ff0000"/><circle cx="667.64" cy="177.75" r="1.95" fill="#ff0000"/><circle cx="672.70" cy="182.17" r="1.95" fill="#ff0000"/><circle cx="677.75" cy="186.22" r="1.95" fill="#ff0000"/><circle cx="682.81" cy="189.97" r="1.95" fill="#ff0000"/><circle cx="687.87" cy="193.47" r="1.95" fill="#ff0000"/><circle cx="692.93" cy="196.75" r="1.95" fill="#ff0000"/><circle cx="697.98" cy="199.83" r="1.95" fill="#ff0000"/><circle cx="703.04" cy="202.74" r="1.95" fill="#ff0000"/><circle cx="708.10" cy="205.50" r="1.95" fill="#ff0000"/><circle cx="713.15" cy="208.13" r="1.95" fill="#ff0000"/><circle cx="718.21" cy="210.62" r="1.95" fill="#ff0000"/><circle cx="723.27" cy="213.01" r="1.95" fill="#ff0000"/><circle cx="728.33" cy="215.30" r="1.95" fill="#ff0000"/><circle cx="733.38" cy="217.50" r="1.95" fill="#ff0000"/><circle cx="738.44" cy="219.61" r="1.95" fill="#ff0000"/><circle cx="743.50" cy="221.64" r="1.95" fill="#ff0000"/><circle cx="748.55" cy="223.61" r="1.95" fill="#ff0000"/><circle cx="753.61" cy="225.51" r="1.95" fill="#ff0000"/><circle cx="758.67" cy="227.36" r="1.95" fill="#ff0000"/><circle cx="763.72" cy="229.15" r="1.95" fill="#ff0000"/><circle cx="768.78" cy="230.90" r="1.95" fill="#ff0000"/><circle cx="773.84" cy="232.60" r="1.95" fill="#ff0000"/><circle cx="778.89" cy="234.25" r="1.95" fill="#ff0000"/><circle cx="783.95" cy="235.88" r="1.95" fill="#ff0000"/><circle cx="789.01" cy="237.46" r="1.95" fill="#ff0000"/><circle cx="794.07" cy="239.02" r="1.95" fill="#ff0000"/><text transform="matrix(1 0.0004 0 1 628.78 141.10)" class="l" font-size="7.5">log</text><text transform="matrix(0.8 0.0004 0 1.25 639.75 141.50)" class="l" font-size="7.5">(</text><text transform="matrix(0.8 0.0004 0 1 642.10 141.10)" class="l" font-size="7.5">−</text><text transform="matrix(0.82 0.0004 0 1.03 645.89 141.10)" class="l" font-size="7.5">K</text><text transform="matrix(1.12 0.0004 0 1 651.31 137.40)" class="s" font-size="4.3">(2)</text><text transform="matrix(1.1 0.0004 0 1 650.92 142.30)" class="s" font-size="4.8">14</text><text transform="matrix(0.8 0.0004 0 1.25 658.51 141.50)" class="l" font-size="7.5">)</text><text transform="matrix(1 0.0004 0 1.04 706.57 189.40)" class="m" font-size="7.95">m = 14</text><text transform="matrix(1 0.0004 0 1 801.70 150.30)" class="d" font-size="7.1">d</text></g>
</svg>
</body></html>
